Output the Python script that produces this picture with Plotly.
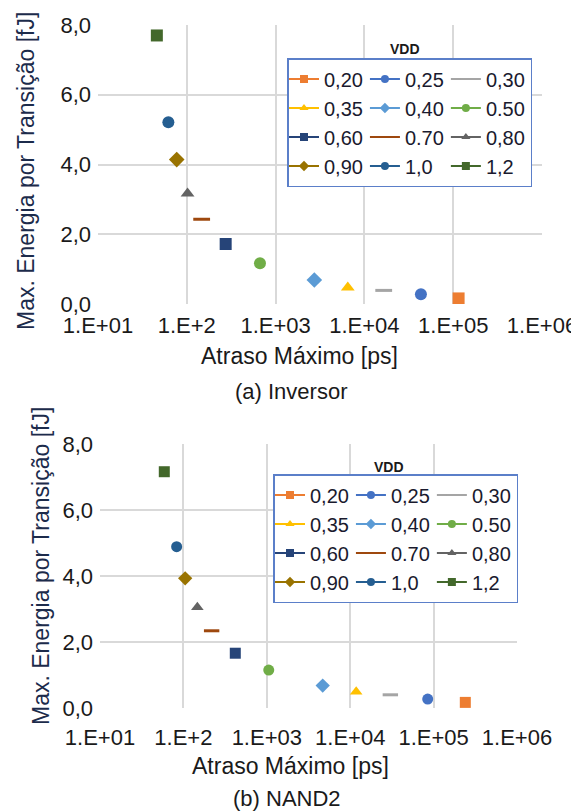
import plotly.graph_objects as go

# ---------------- data ----------------
vdd_labels = ["0,20", "0,25", "0,30", "0,35", "0,40", "0.50",
              "0,60", "0.70", "0,80", "0,90", "1,0", "1,2"]

# (a) Inversor
inv_delay = [115000, 43300, 16500, 6500, 2730, 667, 274, 147, 102, 77, 62, 46]
inv_energy = [0.16, 0.28, 0.39, 0.47, 0.69, 1.17, 1.72, 2.43, 3.17, 4.14, 5.21, 7.70]

# (b) NAND2
nand_delay = [240000, 85000, 30300, 11800, 4680, 1055, 419, 218, 147, 105, 83, 59]
nand_energy = [0.17, 0.27, 0.40, 0.49, 0.68, 1.15, 1.66, 2.34, 3.05, 3.93, 4.89, 7.16]

x_tickvals = [1e1, 1e2, 1e3, 1e4, 1e5, 1e6]
x_ticktext = ["1.E+01", "1.E+2", "1.E+03", "1.E+04", "1.E+05", "1.E+06"]
y_tickvals = [0, 2, 4, 6, 8]
y_ticktext = ["0,0", "2,0", "4,0", "6,0", "8,0"]

# ---------------- styles ----------------
colors = ["#ed7d31", "#4472c4", "#a5a5a5", "#ffc000", "#5b9bd5", "#70ad47",
          "#264478", "#9e480e", "#636363", "#997300", "#255e91", "#43682b"]
symbols = ["square", "circle", "line-ew", "triangle-up", "diamond", "circle",
           "square", "line-ew", "triangle-up", "diamond", "circle", "square"]
FONT = "Liberation Sans, Arial, sans-serif"

# page body has an 8px margin -> figure is drawn 8px right/down of the window corner
OFF = 8
W, H = 579 - OFF, 811 - OFF
ML, MR, MT, MB = 98 - OFF, 37, 25 - OFF, 103
PW = W - ML - MR
PH = H - MT - MB


def px(x):  # window pixel -> paper x
    return (x - OFF - ML) / PW


def py(y):  # window pixel -> paper y
    return (H - MB - (y - OFF)) / PH


fig = go.Figure()


def add_series(delays, energies, xa, ya, legend, gprefix, msize):
    for i, (lab, d, e) in enumerate(zip(vdd_labels, delays, energies)):
        sym = symbols[i]
        isline = sym == "line-ew"
        fig.add_trace(go.Scatter(
            x=[d], y=[e], name=lab, mode="markers", showlegend=False,
            marker=dict(symbol=sym, size=msize, color=colors[i],
                        line=dict(width=3 if isline else 0, color=colors[i])),
            xaxis=xa, yaxis=ya, legendgroup=f"{gprefix}{i % 3}",
            hovertemplate=f"VDD {lab}<br>%{{x}} ps<br>%{{y}} fJ<extra></extra>",
        ))
    # legend entries (line + small marker, as in the original legend)
    for i, lab in enumerate(vdd_labels):
        sym = symbols[i]
        isline = sym == "line-ew"
        fig.add_trace(go.Scatter(
            x=[None], y=[None], name=lab, mode="lines+markers",
            line=dict(color=colors[i], width=2),
            marker=dict(symbol=sym, size=8, color=colors[i],
                        line=dict(width=2 if isline else 0, color=colors[i])),
            xaxis=xa, yaxis=ya, legend=legend, legendgroup=f"{gprefix}{i % 3}",
            hoverinfo="skip",
        ))


add_series(inv_delay, inv_energy, "x", "y", "legend", "a", 12)
add_series(nand_delay, nand_energy, "x2", "y2", "legend2", "b", 11)

grid = dict(showgrid=True, gridcolor="#d9d9d9", gridwidth=1.5, zeroline=False,
            showline=False, ticks="", tickfont=dict(size=22, color="#1a1a1a", family=FONT))

xcommon = dict(type="log", range=[1, 6], tickvals=x_tickvals, ticktext=x_ticktext, **grid)
ycommon = dict(range=[0, 8], tickvals=y_tickvals, ticktext=y_ticktext, **grid)

legend_common = dict(orientation="h", traceorder="grouped", xanchor="left", yanchor="top",
                     bgcolor="white", bordercolor="#5b7fc9", borderwidth=1.5, indentation=-3,
                     font=dict(size=20, color="#1a1a2e", family=FONT), tracegroupgap=0)

annotations = []


def ann(text, x, y, size, angle=0, color="#1a1a1a", bold=False):
    annotations.append(dict(
        text=f"<b>{text}</b>" if bold else text, xref="paper", yref="paper",
        x=px(x), y=py(y), xanchor="center", yanchor="middle", showarrow=False,
        textangle=angle, font=dict(size=size, color=color, family=FONT)))


ytitle = "Max. Energia por Transição [fJ]"
xtitle = "Atraso Máximo [ps]"
ann(ytitle, 26, 171, 23, -90, "#1c2b4b")
ann(ytitle, 41, 566, 23, -90, "#1c2b4b")
ann(xtitle, 299, 356, 23)
ann(xtitle, 290, 766, 23)
ann("(a) Inversor", 291, 391, 22)
ann("(b) NAND2", 287, 798, 22)
ann("VDD", 405, 49, 14, bold=True)
ann("VDD", 389, 467, 14, bold=True)

fig.update_layout(
    width=W, height=H,
    margin=dict(l=ML, r=MR, t=MT, b=MB, autoexpand=False),
    paper_bgcolor="white", plot_bgcolor="white",
    font=dict(family=FONT, color="#1a1a1a"),
    xaxis=dict(domain=[0, 1], anchor="y", ticklabelstandoff=6, **xcommon),
    yaxis=dict(domain=[py(304), 1], anchor="x", ticklabelstandoff=6, **ycommon),
    xaxis2=dict(domain=[px(100), px(517)], anchor="y2", ticklabelstandoff=14, **xcommon),
    yaxis2=dict(domain=[0, py(444)], anchor="x2", ticklabelstandoff=6, **ycommon),
    legend=dict(x=px(287), y=py(58), **legend_common),
    legend2=dict(x=px(273), y=py(474), **legend_common),
    annotations=annotations,
    showlegend=True,
)

fig.write_html("out.html")
